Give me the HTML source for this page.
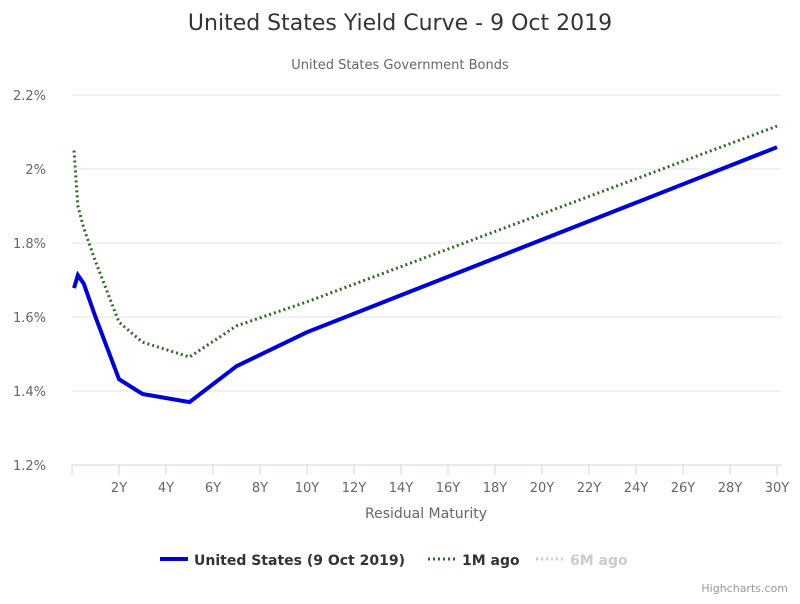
<!DOCTYPE html>
<html><head><meta charset="utf-8"><style>
body{margin:0;background:#fff;font-family:"DejaVu Sans","Liberation Sans",sans-serif;}
svg text{font-family:"DejaVu Sans","Liberation Sans",sans-serif;}
</style></head><body>
<svg id="chart" width="800" height="600">
<text x="400" y="30" text-anchor="middle" font-size="22" fill="#333">United States Yield Curve - 9 Oct 2019</text>
<text x="400" y="69" text-anchor="middle" font-size="13" fill="#666">United States Government Bonds</text>
<g id="grid"></g><g id="axes"></g><g id="series"></g>
<text x="426" y="518" text-anchor="middle" font-size="14" fill="#666">Residual Maturity</text>
<g><line x1="160" y1="559" x2="188" y2="559" stroke="#0000dd" stroke-width="4"/><text x="194" y="565" font-size="14" font-weight="bold" fill="#333">United States (9 Oct 2019)</text></g>
<g><line x1="428" y1="559" x2="456" y2="559" stroke="#2e6b1e" stroke-width="3" stroke-dasharray="2,3"/><text x="462" y="565" font-size="14" font-weight="bold" fill="#333">1M ago</text></g>
<g><line x1="536" y1="559" x2="564" y2="559" stroke="#ccc" stroke-width="3" stroke-dasharray="2,3"/><text x="570" y="565" font-size="14" font-weight="bold" fill="#ccc">6M ago</text></g>
<text x="788" y="592" text-anchor="end" font-size="11" fill="#999">Highcharts.com</text>
</svg>
<script>
const maturities=[0.083,0.25,0.5,1,2,3,5,7,10,30];
const usValues=[1.678,1.713,1.69,1.60,1.432,1.392,1.370,1.467,1.559,2.059];
const m1Values=[2.05,1.90,1.84,1.75,1.586,1.532,1.492,1.576,1.641,2.116];
const yTicks=[1.2,1.4,1.6,1.8,2.0,2.2];
const yTickLabels=["1.2%","1.4%","1.6%","1.8%","2%","2.2%"];
const xTicks=[2,4,6,8,10,12,14,16,18,20,22,24,26,28,30];
const xTickLabels=["2Y","4Y","6Y","8Y","10Y","12Y","14Y","16Y","18Y","20Y","22Y","24Y","26Y","28Y","30Y"];
const NS="http://www.w3.org/2000/svg";
const X=v=>72+v*23.5, Y=v=>465-(v-1.2)*370;
function mk(t,a,p){const e=document.createElementNS(NS,t);for(const k in a)e.setAttribute(k,a[k]);p.appendChild(e);return e;}
const g=document.getElementById('grid'),ax=document.getElementById('axes'),s=document.getElementById('series');
yTicks.forEach((v,i)=>{
 const l=mk('line',{x1:72,x2:782,y1:Y(v),y2:Y(v),stroke:v===1.2?'#ccd6eb':'#e6e6e6','stroke-width':1},g);
 
 
 const t=mk('text',{x:46,y:Y(v)+5,'text-anchor':'end','font-size':13,fill:'#666'},ax);t.textContent=yTickLabels[i];
 
 
});
mk('line',{x1:72,x2:72,y1:465,y2:475,stroke:'#ccd6eb'},ax);
xTicks.forEach((v,i)=>{
 mk('line',{x1:X(v),x2:X(v),y1:465,y2:475,stroke:'#ccd6eb'},ax);
 const t=mk('text',{x:X(v),y:492,'text-anchor':'middle','font-size':13,fill:'#666'},ax);t.textContent=xTickLabels[i];
 
 
});
function path(vals){return vals.map((v,i)=>(i?'L':'M')+X(maturities[i]).toFixed(1)+','+Y(v).toFixed(1)).join(' ');}
const p1=mk('path',{d:path(m1Values),fill:'none',stroke:'#2e6b1e','stroke-width':3,'stroke-dasharray':'2,3','stroke-linejoin':'round'},s);


const p0=mk('path',{d:path(usValues),fill:'none',stroke:'#0000dd','stroke-width':4,'stroke-linejoin':'miter'},s);


</script>
</body></html>
